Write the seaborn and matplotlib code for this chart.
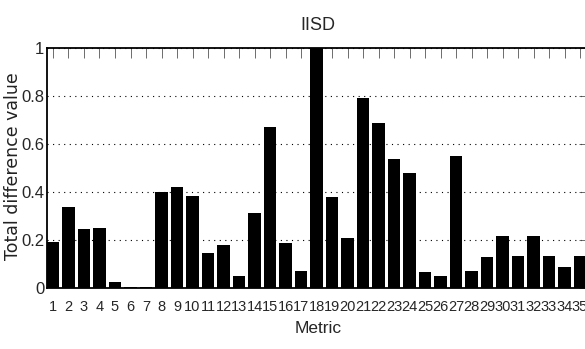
import numpy as np
import pandas as pd
import matplotlib
matplotlib.use("Agg")
import matplotlib.pyplot as plt
import seaborn as sns

# values
metrics = list(range(1, 36))
diff_values = [0.192, 0.335, 0.243, 0.249, 0.025, 0.004, 0.004, 0.399, 0.421, 0.382,
               0.143, 0.178, 0.049, 0.313, 0.668, 0.186, 0.071, 1.000, 0.379, 0.206,
               0.792, 0.685, 0.535, 0.478, 0.067, 0.049, 0.550, 0.071, 0.128, 0.215,
               0.131, 0.215, 0.131, 0.085, 0.133]
y_ticks = [0, 0.2, 0.4, 0.6, 0.8, 1]
y_ticklabels = ["0", "0.2", "0.4", "0.6", "0.8", "1"]

sns.set_style("white")
plt.rcParams["font.family"] = ["Liberation Sans", "DejaVu Sans"]

df = pd.DataFrame({"metric": metrics, "value": diff_values})

W, H = 585, 349
fig = plt.figure(figsize=(W / 100, H / 100), dpi=100)
ax = fig.add_axes([47 / W, 1 - 287.7 / H, (589 - 47) / W, (287.7 - 47.7) / H])

sns.barplot(data=df, x="metric", y="value", native_scale=True, width=0.82,
            color="black", edgecolor="black", linewidth=0, saturation=1, ax=ax)

ax.set_xlim(0.613, 35.58)
ax.set_ylim(0, 1)
ax.set_xticks(metrics)
ax.set_xticklabels([str(m) for m in metrics], fontsize=10.5)
ax.set_yticks(y_ticks)
ax.set_yticklabels(y_ticklabels, fontsize=12)

ax.yaxis.grid(True, linestyle=(0, (1, 4)), color="black", linewidth=0.8)
ax.xaxis.grid(False)
ax.set_axisbelow(True)

ax.tick_params(axis="both", direction="in", length=7, width=0.6, color="#555555",
               top=True, right=True)
ax.tick_params(axis="x", pad=9)
ax.tick_params(axis="y", pad=2)
for s in ax.spines.values():
    s.set_color("black")
    s.set_linewidth(1.3)

ax.set_title("IISD", fontsize=13, pad=13)
ax.set_xlabel("Metric", fontsize=12.5, labelpad=5)
ax.set_ylabel("Total difference value", fontsize=12.5, family=["DejaVu Sans"],
              color="#222222")
ax.yaxis.set_label_coords(-0.047, 0.507)

fig.savefig("out.png", dpi=100, facecolor="white")
